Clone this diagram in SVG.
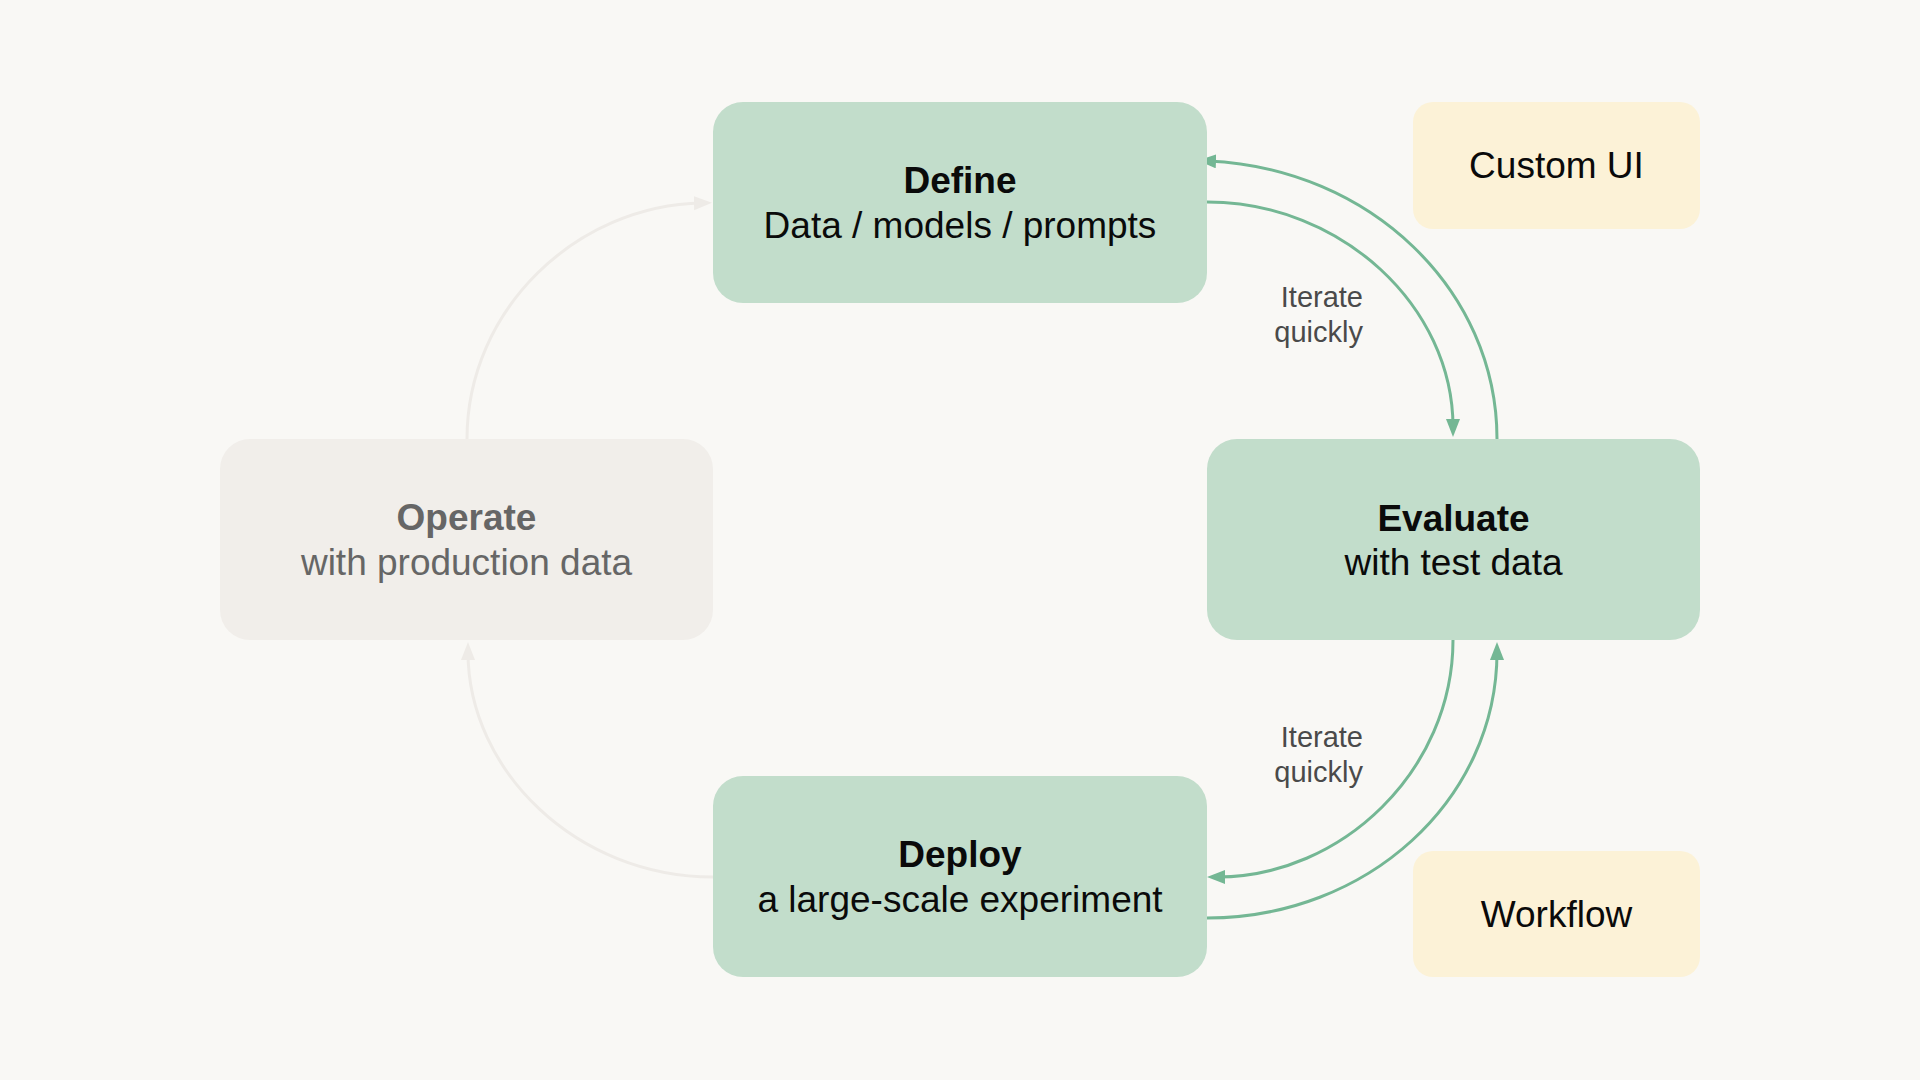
<svg xmlns="http://www.w3.org/2000/svg" width="1920" height="1080" viewBox="0 0 1920 1080">
<defs>
<style>
text{font-family:"Liberation Sans",Arial,sans-serif;}
.g{fill:#c2ddcb;}
.y{fill:#fcf2d7;}
.o{fill:#f1eeea;}
.t{font-size:37px;fill:#0a0a0a;text-anchor:middle;}
.b{font-weight:bold;}
.ot{fill:#666;}
.lbl{font-size:29px;fill:#4a4a4a;text-anchor:end;}
.cg{fill:none;stroke:#74b794;stroke-width:3;}
.cl{fill:none;stroke:#eeebe7;stroke-width:3;}
</style>
<marker id="ag" markerUnits="userSpaceOnUse" markerWidth="20" markerHeight="16" refX="8" refY="7" orient="auto">
<path d="M0,0 L18,7 L0,14 z" fill="#74b794"/>
</marker>
<marker id="al" markerUnits="userSpaceOnUse" markerWidth="20" markerHeight="16" refX="8" refY="7" orient="auto">
<path d="M0,0 L18,7 L0,14 z" fill="#eeebe7"/>
</marker>
</defs>
<rect width="1920" height="1080" fill="#f9f8f5"/>
<g id="connectors">
<path class="cl" d="M467,439 C467,309 577,205 702,203" marker-end="url(#al)"/>
<path class="cl" d="M713,877 C577,877 468,771 468,652" marker-end="url(#al)"/>
<path class="cg" d="M1207,202 C1342,202 1453,307 1453,427" marker-end="url(#ag)"/>
<path class="cg" d="M1497,439 C1497,290 1370,168 1208,161" marker-end="url(#ag)"/>
<path class="cg" d="M1453,640 C1453,770 1342,877 1217,877" marker-end="url(#ag)"/>
<path class="cg" d="M1207,918 C1367,918 1497,800 1497,652" marker-end="url(#ag)"/>
<text class="lbl" x="1363" y="307">Iterate</text>
<text class="lbl" x="1363" y="342">quickly</text>
<text class="lbl" x="1363" y="747">Iterate</text>
<text class="lbl" x="1363" y="782">quickly</text>
</g>
<g id="define">
<rect class="g" x="713" y="102" width="494" height="201" rx="30"/>
<text class="t b" x="960" y="193">Define</text>
<text class="t" x="960" y="238">Data / models / prompts</text>
</g>
<g id="evaluate">
<rect class="g" x="1207" y="439" width="493" height="201" rx="30"/>
<text class="t b" x="1453.5" y="531">Evaluate</text>
<text class="t" x="1453.5" y="575">with test data</text>
</g>
<g id="deploy">
<rect class="g" x="713" y="776" width="494" height="201" rx="30"/>
<text class="t b" x="960" y="867">Deploy</text>
<text class="t" x="960" y="912">a large-scale experiment</text>
</g>
<g id="operate">
<rect class="o" x="220" y="439" width="493" height="201" rx="30"/>
<text class="t b ot" x="466.5" y="530">Operate</text>
<text class="t ot" x="466.5" y="575">with production data</text>
</g>
<g id="custom-ui">
<rect class="y" x="1413" y="102" width="287" height="127" rx="20"/>
<text class="t" x="1556.5" y="178">Custom UI</text>
</g>
<g id="workflow">
<rect class="y" x="1413" y="851" width="287" height="126" rx="20"/>
<text class="t" x="1556.5" y="927">Workflow</text>
</g>
</svg>
